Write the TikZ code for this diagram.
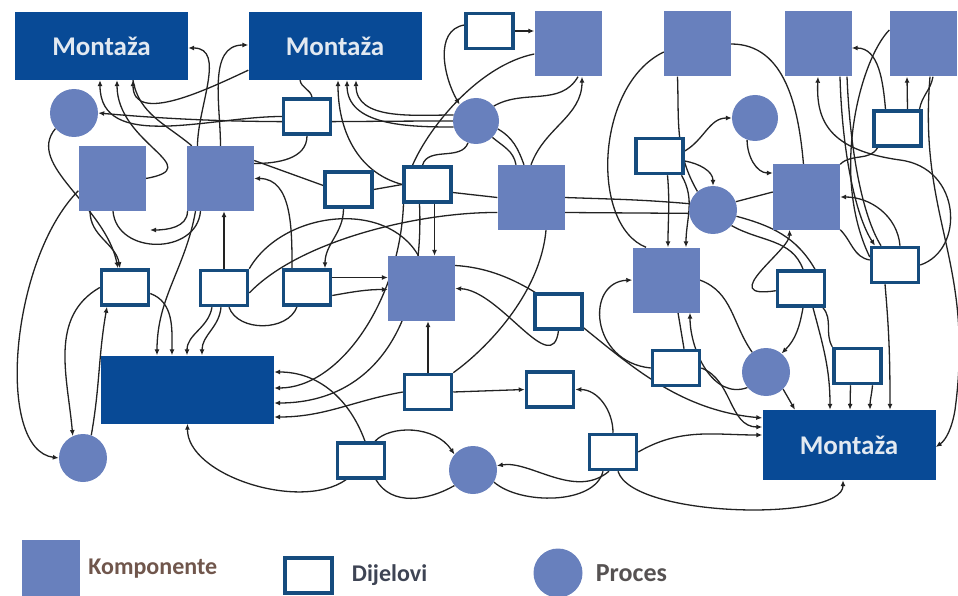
\documentclass[tikz,border=0pt]{standalone}
\usepackage{fontspec}
\setmainfont{Carlito}
\usetikzlibrary{arrows.meta,positioning}
\definecolor{montplava}{RGB}{8,74,150}
\definecolor{kompplava}{RGB}{104,128,189}
\definecolor{dioplava}{RGB}{22,76,126}
\definecolor{linija}{RGB}{34,34,34}
\definecolor{montekst}{RGB}{226,233,241}
\definecolor{tekstk}{RGB}{112,86,76}
\definecolor{tekstd}{RGB}{62,68,84}
\definecolor{tekstp}{RGB}{86,82,82}
\pgfdeclarelayer{pozadina}
\pgfsetlayers{pozadina,main}

\begin{document}
\begin{tikzpicture}[x=1pt,y=1pt,
    montaza/.style={fill=montplava,text=montekst,font=\fontsize{27}{30}\selectfont\bfseries,minimum width=173pt,minimum height=68pt,inner sep=0pt},
    komponenta/.style={fill=kompplava,minimum width=67pt,minimum height=65pt,inner sep=0pt},
    dio/.style={draw=dioplava,line width=3.5pt,fill=white,minimum width=47pt,minimum height=35pt,inner sep=0pt},
    proces/.style={circle,fill=kompplava,minimum size=48pt,inner sep=0pt},
    veza/.style={draw=linija,line width=1.3pt,-{Latex[length=6pt,width=5pt]}},
    vezab/.style={draw=linija,line width=1.3pt},
    legenda/.style={font=\fontsize{24}{28}\selectfont\bfseries,inner sep=1pt}]
\useasboundingbox (0,0) rectangle (958,-596);

% montaze
\node[montaza] (m1) at (101.5,-46) {Montaža};
\node[montaza] (m2) at (335,-46) {Montaža};
\node[montaza,minimum height=70pt] (m3) at (849,-445) {Montaža};
\node[montaza] (mv) at (187.5,-389.5) {};

% komponente
\node[komponenta] (k1) at (568,-44) {};
\node[komponenta] (k2) at (697.5,-44) {};
\node[komponenta] (k3) at (818,-44) {};
\node[komponenta] (k4) at (923,-44) {};
\node[komponenta] (k5) at (112,-178.5) {};
\node[komponenta] (k6) at (220.5,-178.5) {};
\node[komponenta] (k7) at (531,-197.5) {};
\node[komponenta] (k8) at (806.5,-197) {};
\node[komponenta] (k9) at (421.5,-288.5) {};
\node[komponenta] (k10) at (666,-280) {};

% dijelovi
\node[dio] (d1) at (489.5,-31) {};
\node[dio] (d2) at (307,-116.5) {};
\node[dio] (d3) at (348.5,-189.5) {};
\node[dio] (d4) at (427.5,-184.5) {};
\node[dio] (d5) at (659.5,-156) {};
\node[dio] (d6) at (897.5,-128.5) {};
\node[dio] (d7) at (125,-287.5) {};
\node[dio] (d8) at (224,-288) {};
\node[dio] (d9) at (307,-287.5) {};
\node[dio] (d10) at (558.5,-311.5) {};
\node[dio] (d11) at (895,-265) {};
\node[dio] (d12) at (801,-288.5) {};
\node[dio] (d13) at (676,-368) {};
\node[dio] (d14) at (857.5,-366) {};
\node[dio] (d15) at (428,-392) {};
\node[dio] (d16) at (550,-389.5) {};
\node[dio] (d17) at (361,-460.5) {};
\node[dio] (d18) at (613,-452) {};

% procesi
\node[proces] (p1) at (74,-113) {};
\node[proces,minimum size=46pt] (p2) at (476,-121) {};
\node[proces,minimum size=46pt] (p3) at (755,-118) {};
\node[proces] (p4) at (713,-210) {};
\node[proces] (p5) at (766,-372) {};
\node[proces] (p6) at (83,-458) {};
\node[proces] (p7) at (473,-470) {};

% legenda
\node[komponenta,minimum width=58pt,minimum height=58pt] (lk) at (51,-569) {};
\node[legenda,text=tekstk,right=7pt of lk] (tk) {Komponente};
\node[dio] (ld) at (308.5,-575.5) {};
\node[legenda,text=tekstd,right=17pt of ld] (td) {Dijelovi};
\node[proces,minimum size=49pt] (lp) at (558,-573) {};
\node[legenda,text=tekstp,font=\fontsize{26}{30}\selectfont\bfseries,right=12pt of lp] (tp) {Proces};

\begin{pgfonlayer}{pozadina}
% gore lijevo
\draw[veza] ([xshift=-23pt]k6.north) to[out=90,in=0] ([yshift=-2pt]m1.east);
\draw[veza] (k6.north) to[out=90,in=180] ([yshift=1pt]m2.west);
\draw[veza] (d2.west) to[out=180,in=-90] ([xshift=-1.5pt]m1.south);
\draw[veza] (k5.east) to[out=10,in=-90,looseness=1.6] ([xshift=15.5pt]m1.south);
\draw[veza] ([yshift=10pt]m2.south west) to[out=205,in=-90] ([xshift=31.5pt]m1.south);
\draw[vezab] ([xshift=5pt]k6.north west) to[out=140,in=-80] ([xshift=31.5pt]m1.south);
\draw[veza] (p2.180) to[out=180,in=-5] (p1.east);
\draw[veza] (p1.220) .. controls (25,-165) and (105,-205) .. ([xshift=-7pt]d7.north);
\draw[veza] ([xshift=-22pt]k5.south) to[out=-90,in=100] ([xshift=-5pt]d7.north);
\draw[veza] (k5.200) .. controls (10,-260) and (-5,-450) .. (p6.west);
\draw[veza] (d7.west) to[out=210,in=95] (p6.115);
\draw[veza] (p6.70) to[out=80,in=-100] ([xshift=-18pt]d7.south);
\draw[vezab] ([xshift=1pt]k5.south) to[out=-85,in=-95,looseness=1.3] ([xshift=-20pt]k6.south);
\coordinate (kraj) at (150,-230);
\draw[veza] ([xshift=-33pt]k6.south) to[out=-90,in=0] (kraj);
% velika montaza
\draw[veza] ([xshift=-25pt]k6.south) to[out=-100,in=90] ([xshift=-30.5pt]mv.north);
\draw[veza] ([yshift=-6pt]d7.east) to[out=-20,in=90] ([xshift=-15.5pt]mv.north);
\draw[veza] ([xshift=-12pt]d8.south) to[out=-100,in=90] ([xshift=-0.5pt]mv.north);
\draw[veza] ([xshift=-3pt]d8.south) to[out=-95,in=90] ([xshift=14.5pt]mv.north);
\draw[veza] (d8.north) -- (d8.north |- k6.south);
\draw[vezab] ([xshift=5pt]d8.south) to[out=-70,in=-110] ([xshift=-10pt]d9.south);
\draw[vezab] ([yshift=-5pt]d8.east) .. controls (300,-240) and (420,-212) .. ([yshift=-15pt]k7.west);
\draw[vezab] (d8.north east) to[out=60,in=120] ([xshift=-3pt]k9.north);
\draw[veza] ([xshift=-15pt]d9.north) to[out=90,in=0] (k6.east);
\draw[veza] ([xshift=-5pt]d3.south) to[out=-90,in=90] ([xshift=18pt]d9.north);
\draw[vezab] ([yshift=18pt]k6.east) -- ([yshift=4pt]d3.west);
\draw[vezab] (d2.south) to[out=-90,in=0] ([yshift=15pt]k6.east);
\draw[vezab] ([xshift=-35pt]m2.south) to[out=-80,in=100] ([xshift=5pt]d2.north);
\draw[vezab] (d3.east) -- (d4.west);
\draw[vezab] ([yshift=-8pt]d4.east) -- (k7.west);
% D4, C9
\draw[veza] ([xshift=7pt]d4.south) -- ([xshift=13pt]k9.north);
\draw[veza] ([xshift=-24pt]d4.south) .. controls (400,-300) and (340,-388) .. ([yshift=1.5pt]mv.east);
\draw[veza] ([xshift=-8pt]d4.south) .. controls (425,-330) and (370,-403) .. ([yshift=-13.5pt]mv.east);
\draw[vezab] (p2.250) to[out=-110,in=75] ([xshift=-5pt]d4.north);
% gornja montaza
\draw[veza] (d4.west) to[out=165,in=-90] ([xshift=3pt]m2.south);
\draw[veza] (p2.165) to[out=180,in=-90] ([xshift=21pt]m2.south);
\draw[veza] (p2.195) to[out=180,in=-90] ([xshift=12pt]m2.south);
% D1, C1, P2, C7
\draw[veza] (d1.east) -- (d1.east -| k1.west);
\draw[veza] ([yshift=6pt]d1.west) to[out=190,in=120] (p2.135);
\draw[vezab] ([yshift=-10pt]k1.west) .. controls (480,-65) and (430,-125) .. ([xshift=-15pt]d4.north);
\draw[vezab] (p2.40) to[out=30,in=-120] ([xshift=10pt]k1.south);
\draw[veza] (k7.north) to[out=70,in=-90] ([xshift=14pt]k1.south);
\draw[vezab] (p2.-45) to[out=-40,in=100] ([xshift=-15pt]k7.north);
\draw[vezab] (p2.-20) to[out=-30,in=110] ([xshift=-7pt]k7.north);
% C7, P4, C8
\draw[vezab] (k7.east) to[out=-2,in=175] (p4.165);
\draw[vezab] ([yshift=-15pt]k7.east) -- (p4.188);
\draw[vezab] (p4.20) -- ([yshift=5pt]k8.west);
\draw[vezab] (p4.-40) to[out=-30,in=110] ([xshift=2pt]d12.north);
\draw[vezab] (p4.-15) to[out=-15,in=120] ([xshift=14pt]d12.north);
\draw[veza] (d12.185) .. controls (715,-300) and (790,-250) .. ([xshift=-17pt]k8.south);
\draw[veza] ([xshift=5pt]d11.north) to[out=95,in=0] (k8.east);
\draw[vezab] (k8.south east) to[out=-45,in=170] ([yshift=5pt]d11.west);
\draw[veza] ([xshift=22pt]k3.south) .. controls (842,-150) and (855,-215) .. ([xshift=-20pt]d11.north);
\draw[vezab] ([xshift=29pt]k3.south) .. controls (850,-150) and (862,-215) .. ([xshift=-14pt]d11.north);
\draw[veza] (d11.east) .. controls (965,-250) and (962,-168) .. (900,-160) .. controls (828,-150) and (816,-120) .. (k3.south);
\draw[veza] ([xshift=-12pt]d6.north) to[out=95,in=0] ([yshift=-4pt]k3.east);
\draw[veza] ([xshift=10pt]d6.north) -- ([xshift=-16pt]k4.south);
\draw[vezab] ([xshift=22pt]d6.north) to[out=80,in=-100] ([xshift=10pt]k4.south);
\draw[veza] ([xshift=7pt]k4.south) .. controls (918,-220) and (975,-260) .. (955,-410) .. controls (952,-428) and (946,-440) .. ([yshift=-2pt]m3.east);
\draw[vezab] ([yshift=14pt]k4.west) .. controls (860,-60) and (830,-175) .. ([yshift=8pt]d11.west);
\draw[vezab] ([xshift=-20pt]d6.south) to[out=-120,in=45] (k8.north east);
\draw[vezab] (k2.east) to[out=0,in=95] ([xshift=-3pt]k8.north);
\draw[vezab] ([yshift=-8pt]k2.west) .. controls (595,-85) and (590,-225) .. ([xshift=-20pt]k10.north);
\draw[vezab] ([xshift=-20pt]k2.south) to[out=-88,in=120] (p4.130);
\draw[veza] ([yshift=5pt]d5.east) to[out=30,in=180] (p3.west);
\draw[veza] ([yshift=-5pt]d5.east) to[out=-10,in=90] (p4.north);
\draw[veza] ([xshift=8pt]d5.south) to[out=-85,in=90] ([xshift=2pt]k10.north);
\draw[veza] ([xshift=22pt]d5.south) to[out=-60,in=90] ([xshift=20pt]k10.north);
\draw[veza] (p3.-110) to[out=-90,in=180] ([yshift=24pt]k8.west);
% C10, P5, D13
\draw[vezab] (k10.east) to[out=-20,in=125] (p5.125);
\draw[veza] (p5.220) to[out=200,in=-90] ([xshift=24pt]k10.south);
\draw[vezab] ([xshift=8pt]d13.north) -- ([xshift=12pt]k10.south);
\draw[veza] (d13.west) .. controls (590,-362) and (585,-282) .. (k10.west);
% donja montaza
\draw[veza] ([xshift=2pt]d12.south) to[out=-100,in=45] (p5.50);
\draw[veza] ([xshift=12pt]d12.south) to[out=-75,in=90] ([xshift=-19pt]m3.north);
\draw[vezab] ([xshift=22pt]d12.south) to[out=-50,in=120] (d14.north west);
\draw[veza] (p5.-45) -- ([xshift=-54pt]m3.north);
\draw[veza] ([xshift=-7pt]d14.south) -- ([xshift=1pt]m3.north);
\draw[veza] ([xshift=15pt]d14.south) to[out=-95,in=90] ([xshift=21pt]m3.north);
\draw[veza] ([xshift=-10pt]d11.south) to[out=-85,in=90] ([xshift=41pt]m3.north);
\draw[veza] ([yshift=23pt]k9.east) .. controls (570,-272) and (620,-405) .. ([yshift=27pt]m3.west);
\draw[veza] (d13.east) to[out=-20,in=180] ([yshift=18pt]m3.west);
\draw[veza] (d18.east) to[out=30,in=180] ([yshift=10pt]m3.west);
\draw[veza] ([xshift=5pt]d18.south) .. controls (632,-518) and (843,-522) .. ([xshift=-6pt]m3.south);
\draw[veza] ([xshift=-4pt]d18.south) .. controls (575,-500) and (530,-460) .. (p7.10);
\draw[vezab] (p7.-30) .. controls (520,-505) and (595,-505) .. ([xshift=-10pt]d18.south);
\draw[veza] (d18.north) to[out=90,in=0] (d16.east);
\draw[veza] (d15.east) -- (d16.west);
\draw[veza] (d15.north) -- (d15.north |- k9.south);
\draw[veza] (d15.west) to[out=190,in=0] ([yshift=-27.5pt]mv.east);
\draw[vezab] ([xshift=15pt]k7.south) .. controls (540,-295) and (485,-350) .. (d15.north east);
% D9, D10
\draw[veza] ([yshift=10pt]d9.east) -- ([yshift=11pt]k9.west);
\draw[veza] ([yshift=-8pt]d9.east) to[out=10,in=180] ([yshift=-1pt]k9.west);
\draw[veza] (d10.south) .. controls (552,-380) and (500,-290) .. (k9.east);
% D17, P7
\draw[veza] ([xshift=4pt]d17.north) to[out=110,in=0] ([yshift=17.5pt]mv.east);
\draw[veza] ([xshift=-15pt]d17.south) .. controls (300,-512) and (187,-475) .. (mv.south);
\draw[veza] ([xshift=14pt]d17.north) .. controls (390,-425) and (435,-425) .. (p7.140);
\draw[vezab] ([xshift=15pt]d17.south) to[out=-60,in=-150] (p7.-140);
\end{pgfonlayer}
\end{tikzpicture}
\end{document}
